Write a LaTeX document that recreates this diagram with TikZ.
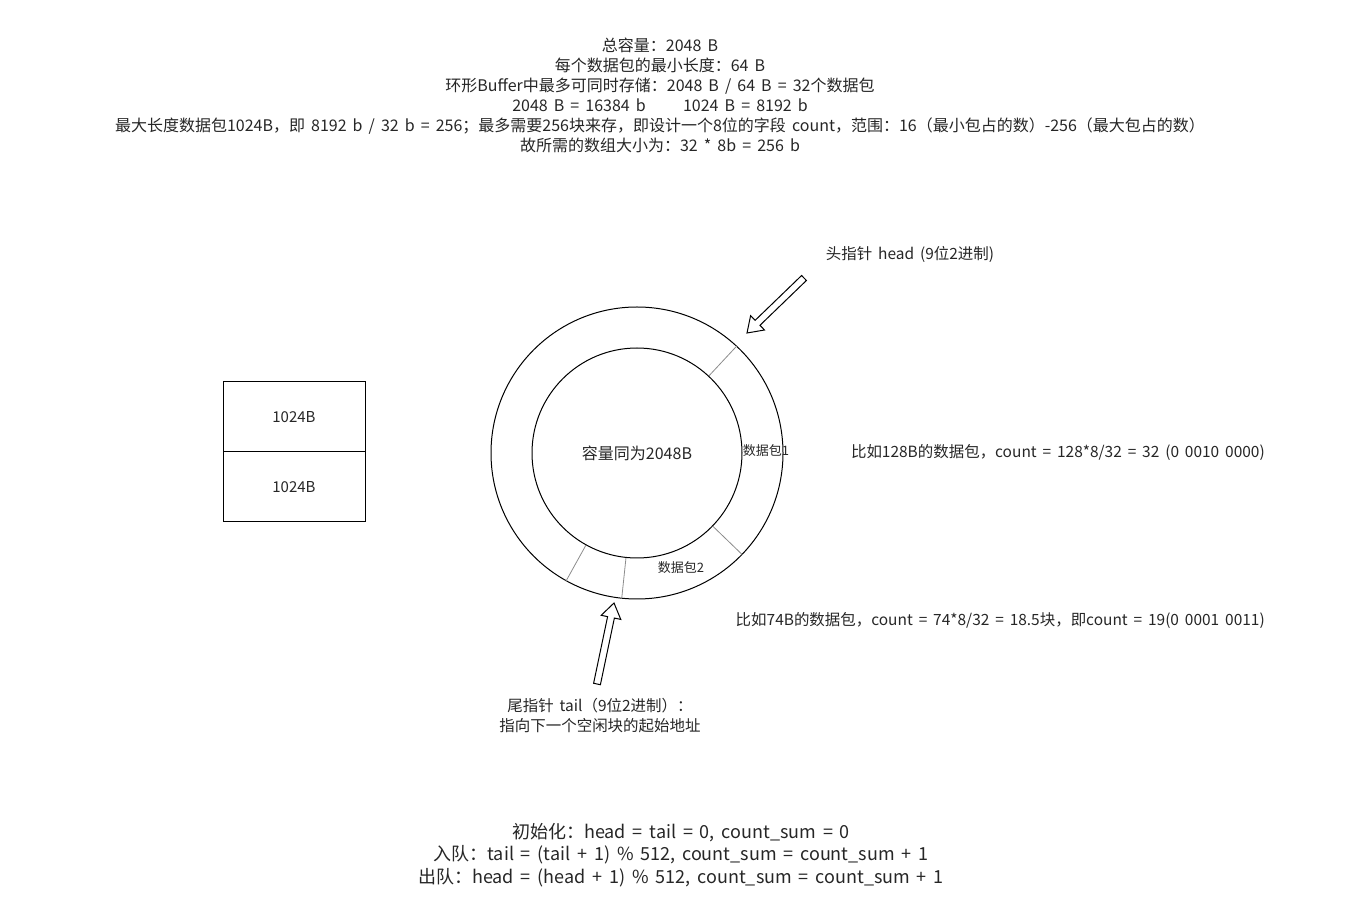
\documentclass[tikz,border=0pt]{standalone}
\usepackage{fontspec}
\setmainfont{Noto Sans CJK SC}
\usetikzlibrary{calc}

\protected\def\widespace{\spaceskip=0.38em\relax}

\tikzset{
  txt/.style={font=\fontsize{11.6pt}{15pt}\selectfont\widespace, align=center, inner sep=0pt, text=black!85},
  bigtxt/.style={font=\fontsize{13.5pt}{17pt}\selectfont\widespace, align=center, inner sep=0pt, text=black!85},
  smalltxt/.style={font=\fontsize{9.75pt}{12pt}\selectfont, inner sep=0pt, text=black!85},
  ring/.style={draw, circle, line width=0.75pt, inner sep=0pt},
  divider/.style={draw=black!45, line width=0.6pt},
  cell/.style={draw, line width=0.75pt, minimum width=106.5pt, minimum height=52.5pt, inner sep=0pt, font=\fontsize{11.25pt}{15pt}\selectfont, text=black!85},
  arrowline/.style={draw, line width=0.75pt, fill=white, line join=miter}
}

\newcommand{\hollowarrow}[2]{%
  \coordinate (neck) at ($(#2)!11pt!(#1)$);
  \draw[arrowline] ($(#1)!2.6pt!90:(#2)$) -- ($(neck)!2.6pt!90:(#2)$) -- ($(neck)!7.5pt!90:(#2)$) -- (#2)
    -- ($(neck)!7.5pt!-90:(#2)$) -- ($(neck)!2.6pt!-90:(#2)$) -- ($(#1)!2.6pt!-90:(#2)$) -- cycle;}

\begin{document}
\begin{tikzpicture}[x=0.75pt, y=-0.75pt]
\useasboundingbox (0,0) rectangle (1365,919);

\node[txt, font=\fontsize{12pt}{15pt}\selectfont\widespace] (notes) at (660,95) {总容量：2048 B\\
每个数据包的最小长度：64 B\\
环形Buffer中最多可同时存储：2048 B / 64 B = 32个数据包\\
2048 B = 16384 b\hspace{28pt}1024 B = 8192 b\\
最大长度数据包1024B，即 8192 b / 32 b = 256；最多需要256块来存，即设计一个8位的字段 count，范围：16（最小包占的数）-256（最大包占的数）\\
故所需的数组大小为：32 * 8b = 256 b};

\node[cell] (upper) at (294,417) {1024B};
\node[cell] (lower) at (294,487) {1024B};

\node[ring, minimum size=219pt] (outer) at (637,453) {};
\node[ring, minimum size=157.5pt] (inner) at (637,453) {};
\node[txt, font=\fontsize{12pt}{15pt}\selectfont] (cap) at (637,453) {容量同为2048B};

\draw[divider] (inner.47) -- (outer.47);
\draw[divider] (inner.-44) -- (outer.-44);
\draw[divider] (inner.241) -- (outer.241);
\draw[divider] (inner.264) -- (outer.264);

\node[smalltxt] (pkt1) at (766,451) {数据包1};
\node[smalltxt] (pkt2) at (681,568) {数据包2};

\node[txt] (headlbl) at (910,254) {头指针 head (9位2进制)};
\node[txt] (taillbl) at (600,716) {尾指针 tail（9位2进制）：\\指向下一个空闲块的起始地址};

\coordinate (headfrom) at (804,278);
\coordinate (headto) at (747,333);
\coordinate (tailfrom) at (597,684);
\coordinate (tailto) at (614,603);
\hollowarrow{headfrom}{headto}
\hollowarrow{tailfrom}{tailto}

\node[txt, anchor=east] (ex1) at (1265,452) {比如128B的数据包，count = 128*8/32 = 32 (0 0010 0000)};
\node[txt, anchor=east] (ex2) at (1265,620) {比如74B的数据包，count = 74*8/32 = 18.5块，即count = 19(0 0001 0011)};

\node[bigtxt] (ops) at (681,855) {初始化：head = tail = 0, count\_sum = 0\\
入队：tail = (tail + 1) \% 512, count\_sum = count\_sum + 1\\
出队：head = (head + 1) \% 512, count\_sum = count\_sum + 1};
\end{tikzpicture}
\end{document}
